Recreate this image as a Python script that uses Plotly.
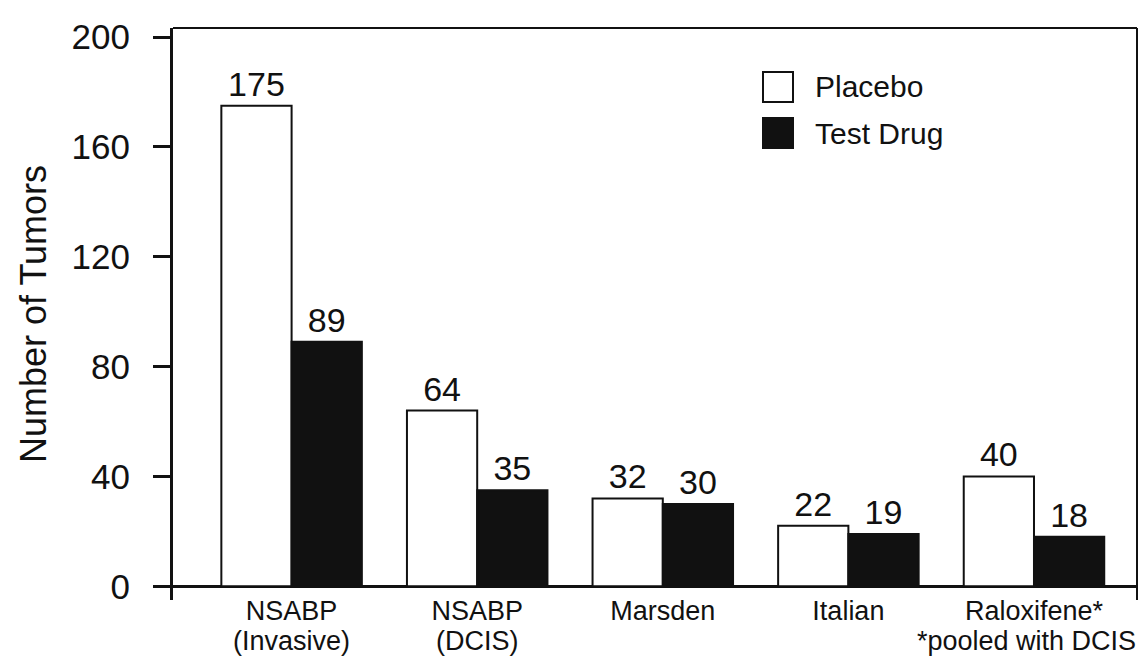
import plotly.graph_objects as go

# Tumour counts per trial
trials = ["NSABP", "NSABP", "Marsden", "Italian", "Raloxifene*"]
trial_notes = ["(Invasive)", "(DCIS)", "", "", "*pooled with DCIS"]
placebo = [175, 64, 32, 22, 40]
test_drug = [89, 35, 30, 19, 18]
y_ticks = [0, 40, 80, 120, 160, 200]
series_names = ["Placebo", "Test Drug"]

FONT = "Liberation Sans, Arial, Helvetica, sans-serif"
INK = "#111111"

W, H = 1139, 658
L, R, T, B = 173, 2, 28, 58

xs = list(range(len(trials)))

fig = go.Figure()
fig.add_trace(go.Bar(
    x=xs, y=placebo, name=series_names[0],
    marker=dict(color="white", line=dict(color=INK, width=2)),
    text=[str(v) for v in placebo], textposition="outside",
    textfont=dict(size=34, color=INK, family=FONT), cliponaxis=False,
    showlegend=False,
))
fig.add_trace(go.Bar(
    x=xs, y=test_drug, name=series_names[1],
    marker=dict(color=INK, line=dict(color=INK, width=2)),
    text=[str(v) for v in test_drug], textposition="outside",
    textfont=dict(size=34, color=INK, family=FONT), cliponaxis=False,
    showlegend=False,
))

pw, ph = W - L - R, H - T - B
def px(x):
    return (x - L) / pw
def py(y):
    return (H - B - y) / ph

# Second line under each trial name, set close to the first
for i, note in enumerate(trial_notes):
    if note:
        fig.add_annotation(xref="x", yref="paper", x=i, y=py(641),
                           text=note, showarrow=False, xanchor="center",
                           yanchor="middle", xshift=-7 if i == len(trials) - 1 else 0,
                           font=dict(size=27, color=INK, family=FONT))

# Legend drawn as boxes and labels in the upper right
legend_rows = [(87, "white"), (133, INK)]
for (cy, fill), name in zip(legend_rows, series_names):
    fig.add_shape(type="rect", xref="paper", yref="paper",
                  x0=px(763), x1=px(793), y0=py(cy + 15), y1=py(cy - 15),
                  fillcolor=fill, line=dict(color=INK, width=2))
    fig.add_annotation(xref="paper", yref="paper", x=px(813), y=py(cy),
                       text=name, showarrow=False, xanchor="left", yanchor="middle",
                       font=dict(size=30, color=INK, family=FONT))

# Thin top and right frame lines
fig.add_shape(type="line", xref="paper", yref="paper", x0=0, x1=1, y0=1, y1=1,
              line=dict(color=INK, width=2))
fig.add_shape(type="line", xref="paper", yref="paper", x0=1, x1=1, y0=0, y1=1,
              line=dict(color=INK, width=2))

fig.update_layout(
    width=W, height=H,
    margin=dict(l=L, r=R, t=T, b=B),
    paper_bgcolor="white", plot_bgcolor="white",
    barmode="group", bargap=0.243, bargroupgap=0,
    font=dict(family=FONT, color=INK),
    showlegend=False,
)
fig.update_xaxes(
    range=[-0.639, 4.555],
    tickmode="array", tickvals=xs, ticktext=trials,
    tickfont=dict(size=27, color=INK, family=FONT),
    showline=False, showgrid=False, ticks="", zeroline=False,
    ticklabelstandoff=-8, ticklabeloverflow="allow", automargin=False,
)
fig.update_yaxes(
    range=[-5, 203.3],
    tickmode="array", tickvals=y_ticks,
    tickfont=dict(size=35, color=INK, family=FONT),
    ticks="outside", ticklen=17, tickwidth=3, tickcolor=INK,
    showline=True, linewidth=3, linecolor=INK,
    showgrid=False, automargin=False,
    zeroline=True, zerolinewidth=3, zerolinecolor=INK,
    ticklabelstandoff=16,
    title=dict(text="Number of Tumors", font=dict(size=36, color=INK, family=FONT),
               standoff=14),
)

fig.write_html("out.html")
